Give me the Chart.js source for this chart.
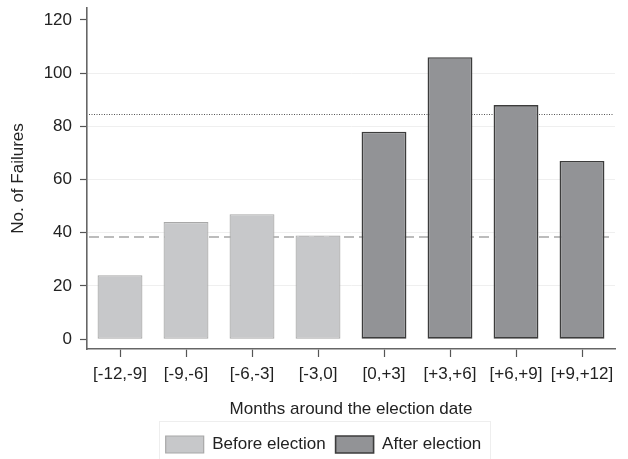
<!DOCTYPE html>
<html>
<head>
<meta charset="utf-8">
<script src="https://cdn.jsdelivr.net/npm/chart.js@4.4.1/dist/chart.umd.min.js"></script>
<style>
  html, body { margin: 0; padding: 0; background: #ffffff; }
  #wrap { width: 628px; height: 459px; position: relative; }
</style>
</head>
<body>
<div id="wrap"><canvas id="chart" width="628" height="459"></canvas></div>
<script>
// Bank failures per three-month window around the election date
const categories = ['[-12,-9]', '[-9,-6]', '[-6,-3]', '[-3,0]', '[0,+3]', '[+3,+6]', '[+6,+9]', '[+9,+12]'];
const beforeElection = [24, 44, 47, 39, null, null, null, null];
const afterElection = [null, null, null, null, 78, 106, 88, 67];
const yTicks = [0, 20, 40, 60, 80, 100, 120];

function mean(values) {
  const v = values.filter(x => x !== null);
  return v.reduce((a, b) => a + b, 0) / v.length;
}
const beforeMean = mean(beforeElection);
const afterMean = mean(afterElection);

const FONT = 'Liberation Sans, Arial, Helvetica, sans-serif';
const LEGEND_SHIFT = 16;

// Horizontal reference lines for the average of each period, drawn behind the bars
const meanLines = {
  id: 'meanLines',
  beforeDatasetsDraw(chart) {
    const { ctx, chartArea, scales: { y } } = chart;
    ctx.save();
    // before-election average: grey dashes
    let py = Math.round(y.getPixelForValue(beforeMean));
    ctx.strokeStyle = '#bcbcbc';
    ctx.lineWidth = 2;
    ctx.setLineDash([10, 5]);
    ctx.beginPath();
    ctx.moveTo(chartArea.left + 2, py);
    ctx.lineTo(chartArea.right - 3, py);
    ctx.stroke();
    // after-election average: fine dots
    py = Math.round(y.getPixelForValue(afterMean)) + 0.5;
    ctx.strokeStyle = '#555555';
    ctx.lineWidth = 1;
    ctx.setLineDash([1, 1.5]);
    ctx.beginPath();
    ctx.moveTo(chartArea.left + 2, py);
    ctx.lineTo(chartArea.right - 1, py);
    ctx.stroke();
    ctx.restore();
  }
};

// Nudge the legend and frame it with a faint outline
const legendFrame = {
  id: 'legendFrame',
  afterLayout(chart) {
    const lg = chart.legend;
    lg.left += LEGEND_SHIFT;
    lg.right += LEGEND_SHIFT;
  },
  afterDraw(chart) {
    const lg = chart.legend;
    const boxes = lg.legendHitBoxes;
    if (!boxes || !boxes.length) return;
    const x0 = boxes[0].left - 7;
    const last = boxes[boxes.length - 1];
    const x1 = last.left + last.width + 8;
    const { ctx } = chart;
    ctx.save();
    ctx.strokeStyle = '#eeeeee';
    ctx.lineWidth = 1;
    ctx.strokeRect(Math.round(x0) + 0.5, 421.5, Math.round(x1 - x0), 42);
    ctx.restore();
  }
};

new Chart(document.getElementById('chart'), {
  type: 'bar',
  data: {
    labels: categories,
    datasets: [
      {
        label: 'Before election',
        data: beforeElection,
        backgroundColor: '#c7c8ca',
        borderColor: '#a8a8a8',
        borderWidth: 1.2,
        borderSkipped: false,
        barPercentage: 0.68,
        categoryPercentage: 1
      },
      {
        label: 'After election',
        data: afterElection,
        backgroundColor: '#929396',
        borderColor: '#3c3c3c',
        borderWidth: 1.6,
        borderSkipped: false,
        barPercentage: 0.68,
        categoryPercentage: 1
      }
    ]
  },
  options: {
    responsive: false,
    animation: false,
    devicePixelRatio: 1,
    layout: { padding: { top: 8, right: 13, bottom: -4, left: 0 } },
    plugins: {
      legend: {
        position: 'bottom',
        labels: {
          boxWidth: 38,
          boxHeight: 17,
          padding: 10,
          color: '#222',
          font: { family: FONT, size: 17 }
        }
      },
      tooltip: { enabled: false }
    },
    scales: {
      x: {
        stacked: true,
        offset: true,
        afterFit(s) { s.height = 77; },
        grid: {
          offset: false,
          drawOnChartArea: false,
          tickColor: '#555',
          tickLength: 8,
          tickWidth: 1.2
        },
        border: { display: true, color: '#666', width: 1.6 },
        ticks: {
          color: '#222',
          padding: 7,
          maxRotation: 0,
          autoSkip: false,
          font: { family: FONT, size: 17 }
        },
        title: {
          display: true,
          text: 'Months around the election date',
          color: '#222',
          padding: { top: 4, bottom: 6 },
          font: { family: FONT, size: 17 }
        }
      },
      y: {
        stacked: false,
        min: -3.7,
        max: 124.5,
        afterFit(s) { s.width = 87; s.paddingTop = 0; s.paddingBottom = 0; },
        afterBuildTicks(s) { s.ticks = yTicks.map(v => ({ value: v })); },
        grid: {
          drawOnChartArea: true,
          color: ctx => (ctx.tick && ctx.tick.value > 0 && ctx.tick.value < 120) ? '#efefef' : 'rgba(0,0,0,0)',
          lineWidth: 1,
          tickColor: '#555',
          tickLength: 7,
          tickWidth: 1.2
        },
        border: { display: true, color: '#666', width: 1.6 },
        ticks: {
          color: '#222',
          padding: 8,
          font: { family: FONT, size: 17 }
        },
        title: {
          display: true,
          text: 'No. of Failures',
          color: '#222',
          padding: { top: 8, bottom: 4 },
          font: { family: FONT, size: 17 }
        }
      }
    }
  },
  plugins: [meanLines, legendFrame]
});
</script>
</body>
</html>
